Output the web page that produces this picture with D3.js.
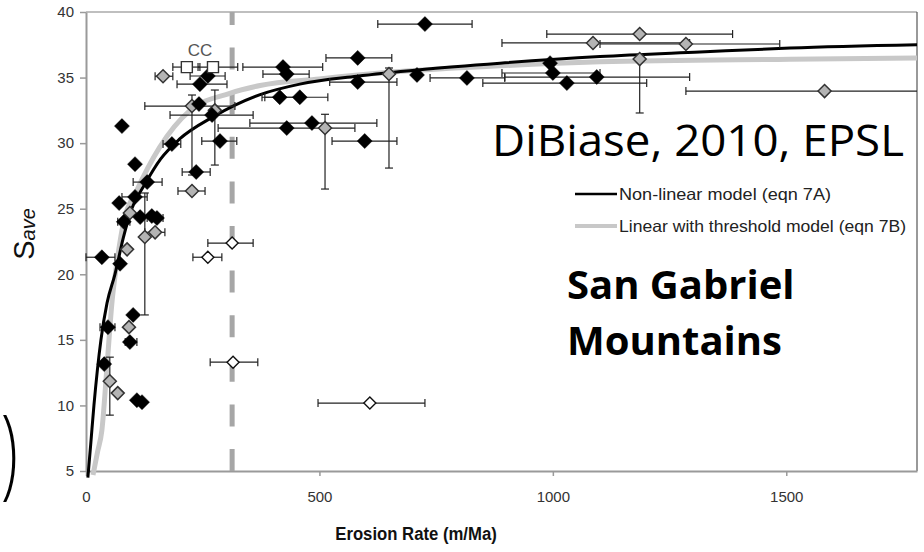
<!DOCTYPE html>
<html><head><meta charset="utf-8">
<script src="https://cdn.jsdelivr.net/npm/d3@7"></script>
<style>body{margin:0;background:#fff}svg{display:block}</style>
</head><body>
<svg id="chart" width="924" height="552"></svg>
<script>
// Axis ticks
const xTicks = [0, 500, 1000, 1500];
const yTicks = [5, 10, 15, 20, 25, 30, 35, 40];

// Model curves: [erosion rate (m/Ma), mean hillslope gradient S_ave (deg)]
const nonLinearModel = [[4,4.5],[10,7],[17,10],[32,15],[45,17.8],[62,20],[80,22.8],[98,25],[125,26.8],[160,28.8],[200,30.3],[272,32.0],[373,33.7],[458,34.5],[580,35.1],[715,35.6],[887,36.1],[1101,36.6],[1315,36.95],[1508,37.25],[1780,37.5]];
const linearThresholdModel = [[15,4.7],[25,6.5],[34,8.1],[45,13],[56,18],[66,20.85],[80,23.9],[109,26.4],[158,29.7],[223,32.5],[308,33.8],[373,34.4],[500,34.9],[650,35.4],[887,35.9],[1101,36.2],[1508,36.4],[1780,36.5]];

// Basins: [E, S, E low, E high, S low, S high] (null = no error bar)
const blackBasins = [
  [726,39.08,625,827,null,null],[261,35.12,223,298,null,null],[244,34.5,195,302,null,null],
  [422,35.8,336,507,null,null],[430,35.27,379,478,null,null],[582,36.5,514,655,null,null],
  [582,34.66,522,666,null,null],[415,33.5,377,458,null,null],[458,33.5,383,518,null,null],
  [430,31.15,283,576,null,null],[484,31.53,351,623,null,null],[597,30.16,527,666,null,null],
  [270,32.14,180,358,null,null],[242,32.98,null,null,null,null],[77,31.3,null,null,null,null],
  [287,30.16,248,323,null,null],[184,29.93,165,203,null,null],[105,28.4,null,null,null,null],
  [236,27.8,206,266,null,null],[131,27.03,101,163,null,null],[71,25.43,null,null,null,null],
  [105,25.9,77,131,null,null],[81,24.0,68,94,null,null],[116,24.36,null,null,null,null],
  [141,24.44,null,null,null,null],[152,24.29,131,165,null,null],[34,21.3,0,62,null,null],
  [73,20.8,null,null,null,null],[101,16.9,null,null,null,null],[47,15.97,30,62,null,null],
  [94,14.83,84,109,null,null],[39,13.15,null,null,null,null],[109,10.4,null,null,null,null],
  [120,10.25,null,null,null,null],[709,35.2,null,null,null,null],[816,34.97,737,897,null,null],
  [994,36.1,null,null,null,null],[1000,35.35,891,1101,null,null],[1030,34.58,850,1201,null,null],
  [1094,35.04,897,1293,null,null]
];
const grayBasins = [
  [165,35.1,148,186,null,null],[227,32.83,126,319,27.57,33.67],[276,32.5,null,null,28.33,34.05],
  [227,26.35,197,255,null,null],[94,24.67,null,null,null,null],[126,22.84,null,null,16.9,26.2],
  [148,23.2,126,169,null,null],[88,21.9,null,null,null,null],[92,15.97,null,null,null,null],
  [51,11.85,null,null,9.26,13.68],[68,10.94,null,null,null,null],[649,35.27,null,null,28.1,35.73],
  [512,31.15,null,null,26.5,32.2],[1086,37.64,891,1293,null,null],[1186,38.32,987,1385,null,null],
  [1285,37.56,1101,1486,null,null],[1186,36.41,null,null,32.3,36.7],[1582,33.97,1285,1900,null,null]
];
const openBasins = [
  [313,22.38,261,358,null,null],[261,21.3,229,291,null,null],
  [315,13.3,266,368,null,null],[608,10.18,497,726,null,null]
];
const ccBasins = [[216,35.8,186,244,null,null],[272,35.8,240,325,null,null]];

const thresholdRate = 313;
const legendLabels = ["Non-linear model (eqn 7A)", "Linear with threshold model (eqn 7B)"];

const svg = d3.select("#chart");
const x = d3.scaleLinear().domain([0, 1780]).range([86, 917]);
const y = d3.scaleLinear().domain([5, 40]).range([471, 12]);

svg.append("defs").append("clipPath").attr("id", "plotClip")
  .append("rect").attr("x", 0).attr("y", 0).attr("width", 917).attr("height", 552);

// frame: top and right borders
svg.append("line").attr("x1", x(0)).attr("x2", x(1780)).attr("y1", y(40)).attr("y2", y(40))
  .attr("stroke", "#aaa").attr("stroke-width", 1.6);
svg.append("line").attr("x1", x(1780)).attr("x2", x(1780)).attr("y1", y(40)).attr("y2", y(5))
  .attr("stroke", "#555").attr("stroke-width", 1.2);

// axes
const yAxis = svg.append("g").attr("transform", `translate(${x(0)},0)`)
  .call(d3.axisLeft(y).tickValues(yTicks).tickSize(6).tickPadding(6).tickSizeOuter(0));
const xAxis = svg.append("g").attr("transform", `translate(0,${y(5)})`)
  .call(d3.axisBottom(x).tickValues(xTicks).tickFormat(d3.format("d"))
    .tickSize(5).tickPadding(15).tickSizeOuter(0));
[yAxis, xAxis].forEach(a => {
  a.select(".domain").attr("stroke", "#9a9a9a").attr("stroke-width", 2);
  a.selectAll(".tick line").attr("stroke", "#9a9a9a").attr("stroke-width", 1.5);
  a.selectAll(".tick text").attr("font-family", "Liberation Sans, Arial, sans-serif")
    .attr("font-size", 15).attr("fill", "#333");
});

// threshold erosion rate
svg.append("line").attr("x1", x(thresholdRate)).attr("x2", x(thresholdRate))
  .attr("y1", y(5)).attr("y2", y(40))
  .attr("stroke", "#a6a6a6").attr("stroke-width", 5).attr("stroke-dasharray", "22,22.6");

const plot = svg.append("g").attr("clip-path", "url(#plotClip)");

// model curves
const line = d3.line().x(d => x(d[0])).y(d => y(d[1])).curve(d3.curveMonotoneX);
plot.append("path").datum(linearThresholdModel).attr("d", line)
  .attr("fill", "none").attr("stroke", "#c8c8c8").attr("stroke-width", 5);
plot.append("path").datum(nonLinearModel).attr("d", line)
  .attr("fill", "none").attr("stroke", "#000").attr("stroke-width", 3);

// error bars
const allBasins = blackBasins.concat(grayBasins, openBasins, ccBasins);
const cap = 4;
const eb = plot.append("g").attr("stroke", "#222").attr("stroke-width", 1.2).attr("fill", "none");
allBasins.forEach(d => {
  const cy = y(d[1]), cx = x(d[0]);
  if (d[2] !== null) {
    const x1 = x(d[2]), x2 = x(d[3]);
    eb.append("line").attr("x1", x1).attr("x2", x2).attr("y1", cy).attr("y2", cy);
    eb.append("line").attr("x1", x1).attr("x2", x1).attr("y1", cy - cap).attr("y2", cy + cap);
    eb.append("line").attr("x1", x2).attr("x2", x2).attr("y1", cy - cap).attr("y2", cy + cap);
  }
  if (d[4] !== null) {
    const y1 = y(d[4]), y2 = y(d[5]);
    eb.append("line").attr("x1", cx).attr("x2", cx).attr("y1", y1).attr("y2", y2);
    eb.append("line").attr("x1", cx - cap).attr("x2", cx + cap).attr("y1", y1).attr("y2", y1);
    eb.append("line").attr("x1", cx - cap).attr("x2", cx + cap).attr("y1", y2).attr("y2", y2);
  }
});

// markers
const diamond = r => `M0,${-r}L${r},0L0,${r}L${-r},0Z`;
function drawMarkers(data, shape, fill, stroke, sw) {
  plot.append("g").selectAll("path").data(data).join("path")
    .attr("transform", d => `translate(${x(d[0])},${y(d[1])})`)
    .attr("d", shape).attr("fill", fill).attr("stroke", stroke).attr("stroke-width", sw);
}
drawMarkers(openBasins, diamond(6), "#fff", "#111", 1.4);
drawMarkers(grayBasins, diamond(6.5), "#b4b4b4", "#333", 1.5);
drawMarkers(blackBasins, diamond(7.5), "#000", "#000", 0.5);
drawMarkers(ccBasins, "M-5.5,-5.5H5.5V5.5H-5.5Z", "#fff", "#333", 1.4);

svg.append("text").attr("x", x(244)).attr("y", 56).attr("text-anchor", "middle")
  .attr("font-family", "Liberation Sans, Arial, sans-serif").attr("font-size", 17)
  .attr("fill", "#555").text("CC");

// legend
const legend = svg.append("g");
const legendWidths = [212, 287];
legendLabels.forEach((lab, i) => {
  const ly = 194 + i * 32;
  legend.append("line").attr("x1", 575).attr("x2", 617).attr("y1", ly).attr("y2", ly)
    .attr("stroke", i === 0 ? "#000" : "#c8c8c8").attr("stroke-width", i === 0 ? 2.5 : 4);
  legend.append("text").attr("x", 619).attr("y", ly + 6)
    .attr("font-family", "Liberation Sans, Arial, sans-serif").attr("font-size", 16.5)
    .attr("textLength", legendWidths[i]).attr("lengthAdjust", "spacingAndGlyphs")
    .attr("fill", "#222").text(lab);
});

// annotations
svg.append("text").attr("x", 492).attr("y", 156)
  .attr("font-family", "Open Sans, sans-serif").attr("font-size", 43).attr("fill", "#000")
  .attr("textLength", 412).attr("lengthAdjust", "spacingAndGlyphs")
  .text("DiBiase, 2010, EPSL");
svg.append("text").attr("x", 567).attr("y", 299)
  .attr("font-family", "Open Sans, sans-serif").attr("font-weight", 700).attr("font-size", 40)
  .attr("fill", "#000").text("San Gabriel");
svg.append("text").attr("x", 567).attr("y", 355)
  .attr("font-family", "Open Sans, sans-serif").attr("font-weight", 700).attr("font-size", 40)
  .attr("fill", "#000").text("Mountains");

// axis titles
svg.append("text").attr("transform", "translate(416,540) scale(0.88,1)").attr("text-anchor", "middle")
  .attr("font-family", "Liberation Sans, Arial, sans-serif")
  .attr("font-weight", 700).attr("font-size", 19).attr("fill", "#111")
  .text("Erosion Rate (m/Ma)");
const yTitle = svg.append("text").attr("transform", "translate(34,234) rotate(-90)")
  .attr("text-anchor", "middle").attr("font-family", "Liberation Sans, Arial, sans-serif")
  .attr("fill", "#111");
yTitle.append("tspan").attr("font-size", 29).text("S");
yTitle.append("tspan").attr("font-size", 20).attr("font-style", "italic").attr("dy", 1).text("ave");

// bracket at the left margin
svg.append("text").attr("transform", "translate(1,486) scale(0.62,1)")
  .attr("font-family", "Open Sans, sans-serif").attr("font-weight", 300).attr("font-size", 100)
  .attr("fill", "#000").text(")");
</script>
</body></html>
